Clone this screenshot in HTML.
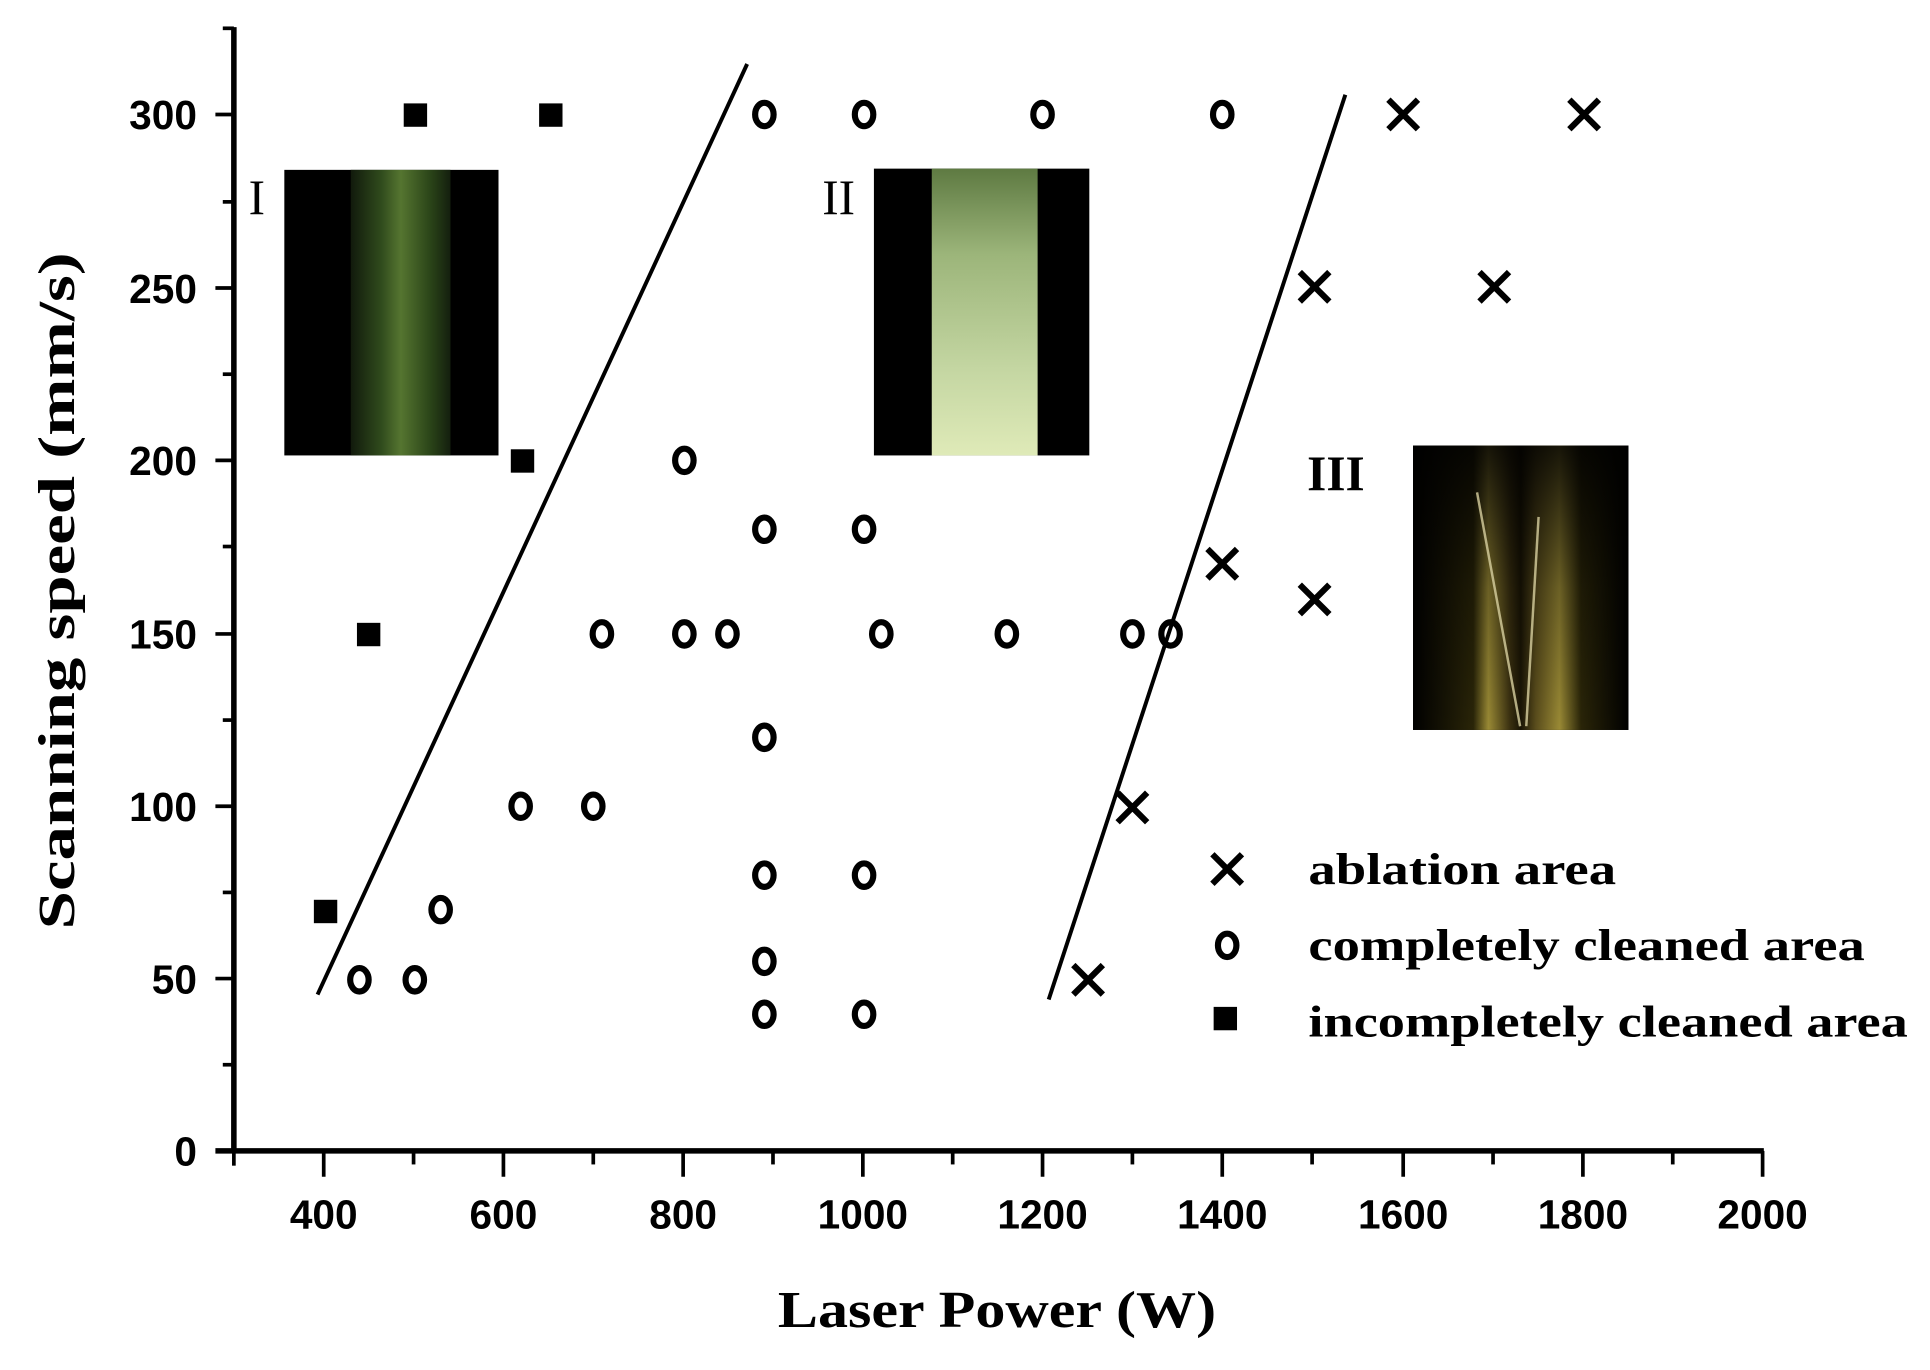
<!DOCTYPE html>
<html><head><meta charset="utf-8"><style>html,body{margin:0;padding:0;background:#fff;}svg{display:block}</style></head>
<body>
<svg width="1930" height="1370" viewBox="0 0 1568 1113" preserveAspectRatio="none" xmlns="http://www.w3.org/2000/svg">
<defs>
<linearGradient id="g1" x1="0" x2="1" y1="0" y2="0">
<stop offset="0" stop-color="#111a0c"/><stop offset="0.3" stop-color="#2f4a1c"/><stop offset="0.5" stop-color="#557530"/><stop offset="0.8" stop-color="#2a4418"/><stop offset="1" stop-color="#141f0e"/></linearGradient>
<linearGradient id="g2" x1="0" x2="0" y1="0" y2="1">
<stop offset="0" stop-color="#5e7a42"/><stop offset="0.3" stop-color="#9cb57a"/><stop offset="0.7" stop-color="#c4d6a2"/><stop offset="1" stop-color="#dfeab8"/></linearGradient>
<linearGradient id="g3" x1="0" x2="1" y1="0" y2="0">
<stop offset="0" stop-color="#000"/><stop offset="0.28" stop-color="#2a2508"/><stop offset="0.35" stop-color="#9a8a35"/><stop offset="0.45" stop-color="#3a3010"/><stop offset="0.5" stop-color="#1a1505"/><stop offset="0.57" stop-color="#5a4d1c"/><stop offset="0.68" stop-color="#9a8a35"/><stop offset="0.78" stop-color="#2a2508"/><stop offset="1" stop-color="#000"/></linearGradient>
<linearGradient id="g3v" x1="0" x2="0" y1="0" y2="1">
<stop offset="0" stop-color="#000" stop-opacity="0.85"/><stop offset="0.5" stop-color="#000" stop-opacity="0.3"/><stop offset="1" stop-color="#000" stop-opacity="0"/></linearGradient>
</defs>

<rect x="231" y="138" width="174" height="232" fill="#000"/>
<rect x="285" y="138" width="81" height="232" fill="url(#g1)"/>
<text x="202" y="174" font-family="Liberation Serif, serif" font-size="40">I</text>

<rect x="710" y="137" width="175" height="233" fill="#000"/>
<rect x="757" y="137" width="86" height="233" fill="url(#g2)"/>
<text x="668" y="174" font-family="Liberation Serif, serif" font-size="40">II</text>

<rect x="1148" y="362" width="175" height="231" fill="#000"/>
<rect x="1148" y="362" width="175" height="231" fill="url(#g3)"/>
<rect x="1148" y="362" width="175" height="231" fill="url(#g3v)"/>
<g stroke="#d8d0a0" stroke-width="2" opacity="0.8"><line x1="1200" y1="400" x2="1235" y2="590"/><line x1="1250" y1="420" x2="1240" y2="590"/></g>
<text x="1062" y="398" font-family="Liberation Serif, serif" font-size="40" font-weight="bold">III</text>

<g stroke="#000" stroke-width="4.5" fill="none">
<line x1="190" y1="22" x2="190" y2="937"/>
<line x1="175" y1="935" x2="1433" y2="935"/>
</g>
<g stroke="#000" stroke-width="3">
<line x1="190" y1="935" x2="190" y2="947"/>
<line x1="263" y1="935" x2="263" y2="956"/><line x1="336" y1="935" x2="336" y2="946"/>
<line x1="409" y1="935" x2="409" y2="956"/><line x1="482" y1="935" x2="482" y2="946"/>
<line x1="555" y1="935" x2="555" y2="956"/><line x1="628" y1="935" x2="628" y2="946"/>
<line x1="701" y1="935" x2="701" y2="956"/><line x1="774" y1="935" x2="774" y2="946"/>
<line x1="847" y1="935" x2="847" y2="956"/><line x1="920" y1="935" x2="920" y2="946"/>
<line x1="993" y1="935" x2="993" y2="956"/><line x1="1066" y1="935" x2="1066" y2="946"/>
<line x1="1140" y1="935" x2="1140" y2="956"/><line x1="1213" y1="935" x2="1213" y2="946"/>
<line x1="1286" y1="935" x2="1286" y2="956"/><line x1="1359" y1="935" x2="1359" y2="946"/>
<line x1="1432" y1="935" x2="1432" y2="956"/>
<line x1="175" y1="795" x2="190" y2="795"/><line x1="181" y1="725" x2="190" y2="725"/>
<line x1="175" y1="655" x2="190" y2="655"/><line x1="181" y1="585" x2="190" y2="585"/>
<line x1="175" y1="515" x2="190" y2="515"/><line x1="181" y1="444" x2="190" y2="444"/>
<line x1="175" y1="374" x2="190" y2="374"/><line x1="181" y1="304" x2="190" y2="304"/>
<line x1="175" y1="234" x2="190" y2="234"/><line x1="181" y1="164" x2="190" y2="164"/>
<line x1="175" y1="93" x2="190" y2="93"/><line x1="181" y1="23" x2="190" y2="23"/>
<line x1="181" y1="865" x2="190" y2="865"/>
</g>
<g font-family="Liberation Sans, sans-serif" font-weight="bold" font-size="33" text-anchor="end">
<text x="160" y="947">0</text><text x="160" y="807">50</text><text x="160" y="667">100</text>
<text x="160" y="527">150</text><text x="160" y="386">200</text><text x="160" y="246">250</text><text x="160" y="105">300</text>
</g>
<g font-family="Liberation Sans, sans-serif" font-weight="bold" font-size="33" text-anchor="middle">
<text x="263" y="998">400</text><text x="409" y="998">600</text><text x="555" y="998">800</text>
<text x="701" y="998">1000</text><text x="847" y="998">1200</text><text x="993" y="998">1400</text>
<text x="1140" y="998">1600</text><text x="1286" y="998">1800</text><text x="1432" y="998">2000</text>
</g>
<text x="632" y="1078" font-family="Liberation Serif, serif" font-weight="bold" font-size="42" textLength="356" lengthAdjust="spacingAndGlyphs">Laser Power (W)</text>
<text transform="translate(60,755) rotate(-90)" font-family="Liberation Serif, serif" font-weight="bold" font-size="42" textLength="550" lengthAdjust="spacingAndGlyphs">Scanning speed (mm/s)</text>

<g stroke="#000" stroke-width="3.2">
<line x1="258" y1="808" x2="607" y2="52"/>
<line x1="852" y1="812" x2="1093" y2="77"/>
</g>

<g fill="#000">
<rect x="328" y="84" width="19" height="19"/><rect x="438" y="84" width="19" height="19"/>
<rect x="415" y="365" width="19" height="19"/><rect x="290" y="506" width="19" height="19"/>
<rect x="255" y="731" width="19" height="19"/><rect x="986" y="818" width="19" height="19"/>
</g>
<g fill="none" stroke="#000" stroke-width="5">
<ellipse cx="621" cy="93" rx="7.5" ry="9.5"/><ellipse cx="702" cy="93" rx="7.5" ry="9.5"/>
<ellipse cx="847" cy="93" rx="7.5" ry="9.5"/><ellipse cx="993" cy="93" rx="7.5" ry="9.5"/>
<ellipse cx="556" cy="374" rx="7.5" ry="9.5"/>
<ellipse cx="621" cy="430" rx="7.5" ry="9.5"/><ellipse cx="702" cy="430" rx="7.5" ry="9.5"/>
<ellipse cx="489" cy="515" rx="7.5" ry="9.5"/><ellipse cx="556" cy="515" rx="7.5" ry="9.5"/>
<ellipse cx="591" cy="515" rx="7.5" ry="9.5"/><ellipse cx="716" cy="515" rx="7.5" ry="9.5"/>
<ellipse cx="818" cy="515" rx="7.5" ry="9.5"/><ellipse cx="920" cy="515" rx="7.5" ry="9.5"/>
<ellipse cx="951" cy="515" rx="7.5" ry="9.5"/>
<ellipse cx="621" cy="599" rx="7.5" ry="9.5"/>
<ellipse cx="423" cy="655" rx="7.5" ry="9.5"/><ellipse cx="482" cy="655" rx="7.5" ry="9.5"/>
<ellipse cx="358" cy="739" rx="7.5" ry="9.5"/>
<ellipse cx="292" cy="796" rx="7.5" ry="9.5"/><ellipse cx="337" cy="796" rx="7.5" ry="9.5"/>
<ellipse cx="621" cy="711" rx="7.5" ry="9.5"/><ellipse cx="702" cy="711" rx="7.5" ry="9.5"/>
<ellipse cx="621" cy="781" rx="7.5" ry="9.5"/>
<ellipse cx="621" cy="824" rx="7.5" ry="9.5"/><ellipse cx="702" cy="824" rx="7.5" ry="9.5"/>
<ellipse cx="997" cy="768" rx="7.5" ry="9.5"/>
</g>
<g stroke="#000" stroke-width="5" fill="none">
<path d="M1128 81l24 24M1152 81l-24 24"/>
<path d="M1275 81l24 24M1299 81l-24 24"/>
<path d="M1056 221l24 24M1080 221l-24 24"/>
<path d="M1202 221l24 24M1226 221l-24 24"/>
<path d="M981 446l24 24M1005 446l-24 24"/>
<path d="M1056 475l24 24M1080 475l-24 24"/>
<path d="M908 644l24 24M932 644l-24 24"/>
<path d="M872 784l24 24M896 784l-24 24"/>
<path d="M985 694l24 24M1009 694l-24 24"/>
</g>
<g font-family="Liberation Serif, serif" font-weight="bold" font-size="36">
<text x="1063" y="718" textLength="250" lengthAdjust="spacingAndGlyphs">ablation area</text>
<text x="1063" y="780" textLength="452" lengthAdjust="spacingAndGlyphs">completely cleaned area</text>
<text x="1063" y="842" textLength="487" lengthAdjust="spacingAndGlyphs">incompletely cleaned area</text>
</g>
</svg>
</body></html>
